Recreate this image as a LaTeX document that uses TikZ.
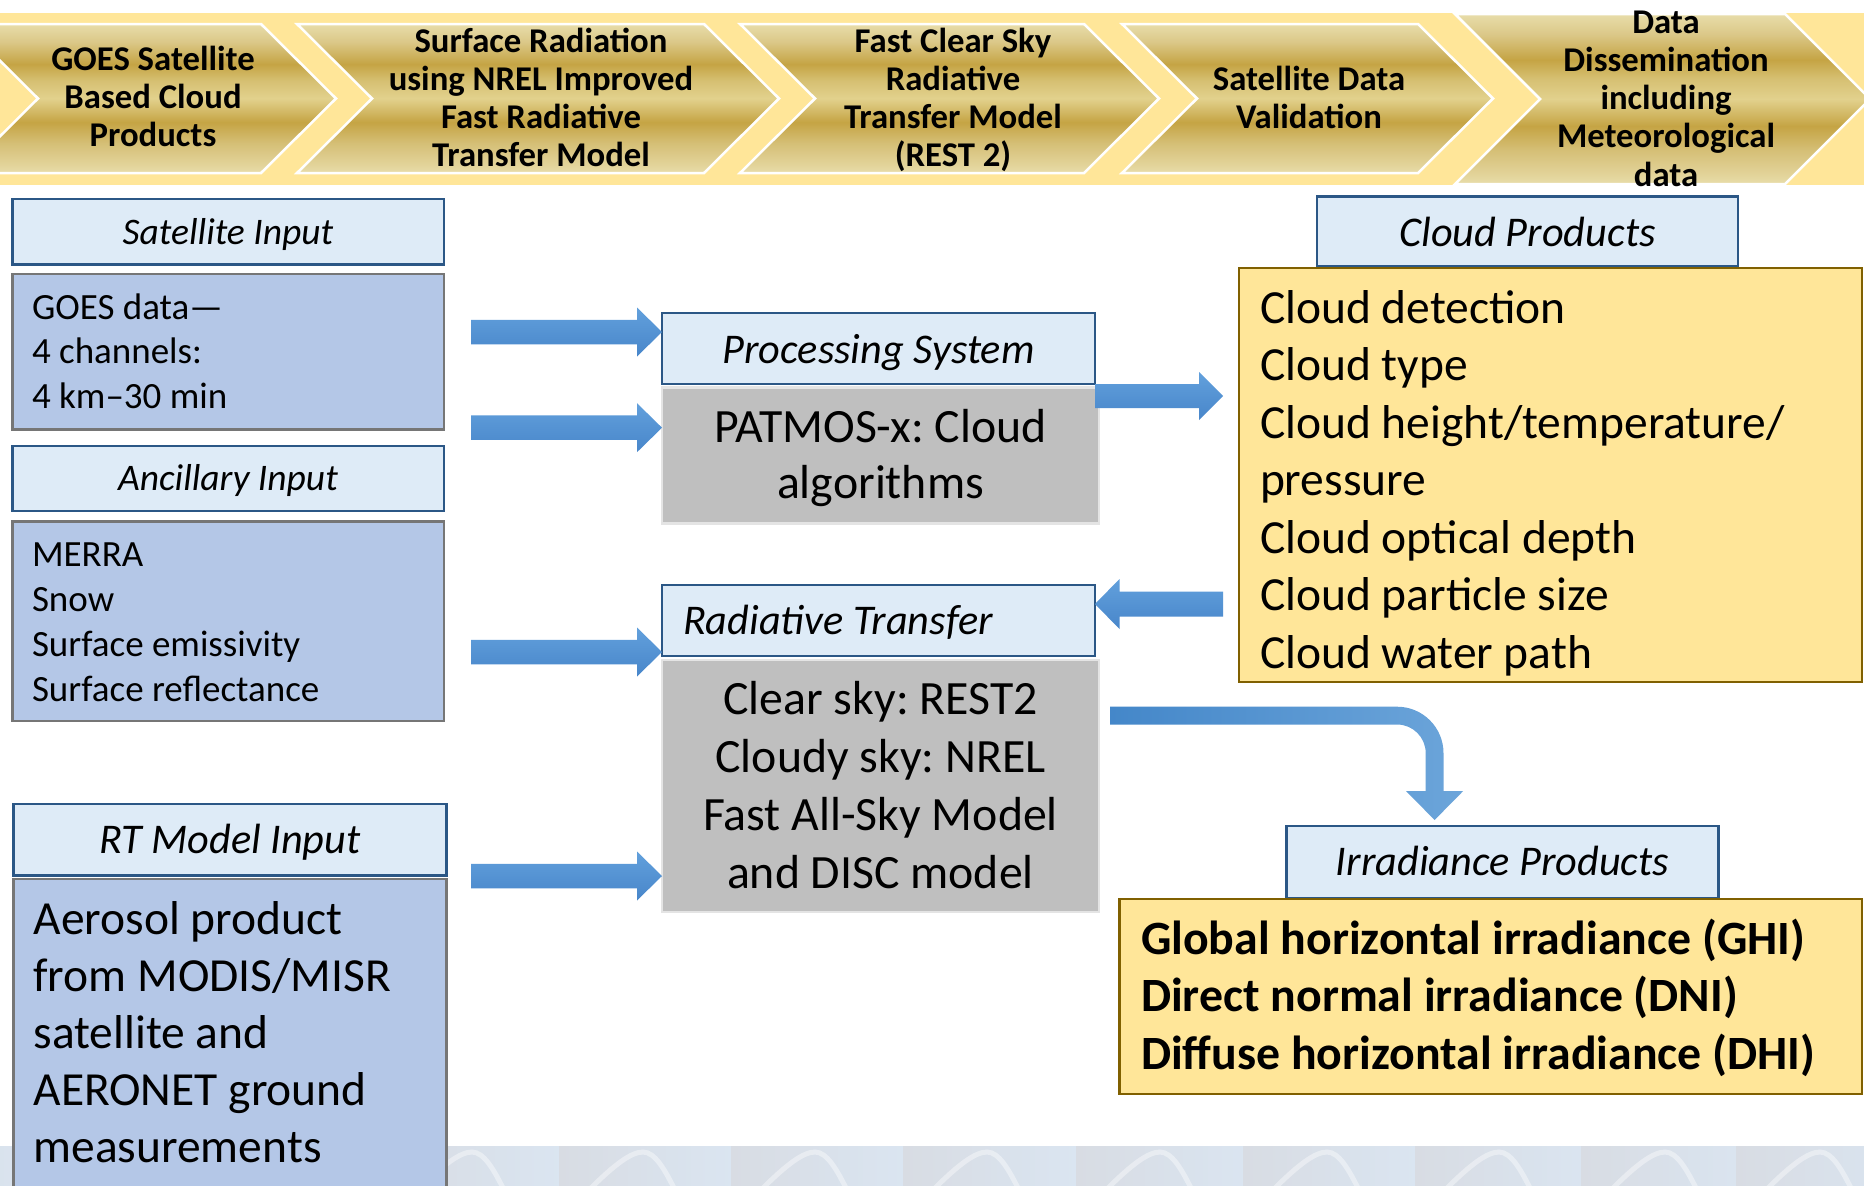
\documentclass[tikz,border=0pt]{standalone}
\usepackage{fontspec}
\setmainfont{Carlito}
\usetikzlibrary{calc}
\frenchspacing
\definecolor{bandY}{HTML}{FFE699}
\definecolor{hdrfill}{HTML}{DEEBF7}
\definecolor{hdrline}{HTML}{2B5786}
\definecolor{bluefill}{HTML}{B4C7E7}
\definecolor{boxline}{HTML}{767676}
\definecolor{grayfill}{HTML}{BFBFBF}
\definecolor{grayline}{HTML}{E4E4E4}
\definecolor{yelfill}{HTML}{FFE699}
\definecolor{yelline}{HTML}{806000}
\definecolor{arrTop}{HTML}{62A0DC}
\definecolor{arrBot}{HTML}{4886CA}
\definecolor{cvL}{HTML}{4487C9}
\definecolor{cvR}{HTML}{6CA5DA}
\definecolor{tileA}{HTML}{D8DCE3}
\definecolor{tileB}{HTML}{DAE5F1}
\definecolor{gE}{HTML}{E8DDAA}
\definecolor{gD}{HTML}{E3D49B}
\definecolor{gC}{HTML}{D5BF76}
\definecolor{gB}{HTML}{C5A444}
\definecolor{gA}{HTML}{E2D18D}
\definecolor{gG}{HTML}{D6C072}
\definecolor{gF}{HTML}{DBC888}
\pgfdeclareverticalshading{goldshade}{100bp}{color(0bp)=(gE); color(25bp)=(gE); color(27.5bp)=(gD); color(35bp)=(gC); color(42bp)=(gB); color(50bp)=(gA); color(56bp)=(gG); color(61.5bp)=(gB); color(69bp)=(gF); color(75bp)=(gE); color(100bp)=(gE)}
\newcommand\fs[1]{\fontsize{#1}{#1}\selectfont}
\newcommand\linesC[2]{\vtop{\baselineskip=#1\lineskiplimit=-\maxdimen\halign{\hfil##\hfil\cr#2\crcr}}}
\newcommand\linesL[2]{\vtop{\baselineskip=#1\lineskiplimit=-\maxdimen\halign{##\hfil\cr#2\crcr}}}
\newcommand\chev[5]{\path[chevron] (#1,#3) -- (#2,#3) -- ({#2+#5},{(#3+#4)/2}) -- (#2,#4) -- (#1,#4) -- ({#1+#5},{(#3+#4)/2}) -- cycle;}
\newcommand\blockarrow[5]{\path[arrowsh] let \p1=(#1), \p2=(#2) in ({\x1},{\y1+#3pt}) -- ({\x2-#5pt},{\y1+#3pt}) -- ({\x2-#5pt},{\y1+#4pt}) -- ({\x2},{\y1}) -- ({\x2-#5pt},{\y1-#4pt}) -- ({\x2-#5pt},{\y1-#3pt}) -- ({\x1},{\y1-#3pt}) -- cycle;}
\newcommand\tile[1]{\path[shade, left color=tileA, right color=tileB] (#1,1146.5) rectangle ({#1+175},1190);
 \draw[white, opacity=0.4, line width=5pt] ({#1+30},1190) .. controls ({#1+55},1165) and ({#1+72},1152) .. ({#1+84},1152) .. controls ({#1+96},1152) and ({#1+106},1170) .. ({#1+116},1190);}
\tikzset{
 chevron/.style={shade, shading=goldshade, draw=white, line width=2.5pt, line join=miter},
 box/.style={inner sep=0pt, outer sep=0pt, anchor=north west},
 hdr/.style={box, draw=hdrline, fill=hdrfill, line width=2.5pt},
 bluebox/.style={box, draw=boxline, fill=bluefill, line width=2.2pt},
 graybox/.style={box, draw=grayline, fill=grayfill, line width=2.5pt},
 yelbox/.style={box, draw=yelline, fill=yelfill, line width=2.2pt},
 txt/.style={inner sep=0pt, outer sep=0pt, text=black},
 bantxt/.style={txt, anchor=base, font=\fs{34.7}\bfseries},
 hdrtxt/.style={txt, anchor=base, font=\fs{42.3}\itshape},
 arrowsh/.style={shade, top color=arrTop, bottom color=arrBot},
 curvsh/.style={shade, left color=cvL, right color=cvR}
}
\begin{document}
\begin{tikzpicture}[x=1pt,y=-1pt]
\useasboundingbox (0,0) rectangle (1864,1186);
\fill[white] (0,0) rectangle (1864,1186);
% banner
\fill[bandY] (0,13) rectangle (1864,185);
\chev{-37}{261}{24}{173}{75}
\chev{297}{704}{24}{173}{75}
\chev{740}{1084}{24}{173}{75}
\chev{1122}{1418}{24}{173}{75}
\chev{1455}{1785}{14}{184}{85}
\node[bantxt] (c1) at (153,70.5) {\linesC{38pt}{GOES Satellite\cr Based Cloud\cr Products}};
\node[bantxt] (c2) at (541,52) {\linesC{38pt}{Surface Radiation\cr using NREL Improved\cr Fast Radiative\cr Transfer Model}};
\node[bantxt] (c3) at (953,52) {\linesC{38pt}{Fast Clear Sky\cr Radiative\cr Transfer Model\cr (REST 2)}};
\node[bantxt] (c4) at (1309,90.5) {\linesC{38pt}{Satellite Data\cr Validation}};
\node[bantxt] (c5) at (1666,33) {\linesC{38.3pt}{Data\cr Dissemination\cr including\cr Meteorological\cr data}};
% bottom strip
\foreach \s in {-128,44,216,388,559,731,903,1076,1243,1415,1581,1736} {\tile{\s}}
% boxes
\node[hdr, minimum width=431.5pt, minimum height=65.5pt] (satH) at (12.5,199) {};
\node[bluebox, minimum width=431.5pt, minimum height=155.5pt] (goesB) at (12.5,274) {};
\node[hdr, minimum width=431.5pt, minimum height=65pt] (ancH) at (12.5,446) {};
\node[bluebox, minimum width=431.5pt, minimum height=199.5pt] (merraB) at (12.5,521.5) {};
\node[hdr, minimum width=433pt, minimum height=71.7pt] (rtH) at (13.4,804) {};
\node[bluebox, minimum width=433pt, minimum height=340pt] (aerB) at (13.4,879) {};
\node[hdr, minimum width=433pt, minimum height=71.2pt] (procH) at (662,312.8) {};
\node[graybox, minimum width=437pt, minimum height=136pt] (patB) at (662,387.4) {};
\node[hdr, minimum width=433pt, minimum height=71pt] (radH) at (662,585) {};
\node[graybox, minimum width=437pt, minimum height=252pt] (rtB) at (662,660) {};
\node[hdr, minimum width=421pt, minimum height=69.3pt] (cloudH) at (1317,196.7) {};
\node[yelbox, minimum width=623pt, minimum height=414pt] (cloudB) at (1239,268) {};
\node[hdr, minimum width=432pt, minimum height=72pt] (irrH) at (1286.5,826) {};
\node[yelbox, minimum width=742.5pt, minimum height=195pt] (irrB) at (1119.5,899) {};
% arrows
\coordinate (a1s) at (471,332);
\coordinate (a1e) at (procH.west |- a1s);
\coordinate (a2s) at (471,427.7);
\coordinate (a2e) at (patB.west |- a2s);
\coordinate (a3s) at (471,652);
\coordinate (a3e) at (radH.west |- a3s);
\coordinate (a4s) at (471,876);
\coordinate (a4e) at (rtB.west |- a4s);
\coordinate (a5y) at (0,396);
\coordinate (a5s) at (procH.east |- a5y);
\coordinate (a5e) at (1223,396);
\coordinate (a6s) at (1223,604);
\coordinate (a6e) at (radH.east |- a6s);
\coordinate (a7s) at (1110,715.6);
\coordinate (a7e) at (1434.6,820);
\blockarrow{a1s}{a1e}{12.25}{24.5}{25}
\blockarrow{a2s}{a2e}{12.25}{24.5}{25}
\blockarrow{a3s}{a3e}{12.25}{24.5}{25}
\blockarrow{a4s}{a4e}{12.25}{24.5}{25}
\blockarrow{a5s}{a5e}{12}{24}{24}
\blockarrow{a6s}{a6e}{12.5}{25}{-24.5}
\path[curvsh] let \p1=(a7s), \p2=(a7e) in
 ({\x1},{\y1+8.9pt}) -- ({\x2-37.5pt},{\y1+8.9pt}) .. controls ({\x2-11.9pt},{\y1+8.9pt}) and ({\x2+8.9pt},{\y1-11.9pt}) .. ({\x2+8.9pt},{\y1-37.5pt})
 -- ({\x2+8.9pt},{\y2+29pt}) -- ({\x2+28.6pt},{\y2+29pt}) -- ({\x2},{\y2}) -- ({\x2-28.6pt},{\y2+29pt}) -- ({\x2-8.9pt},{\y2+29pt})
 -- ({\x2-8.9pt},{\y1-37.5pt}) .. controls ({\x2-8.9pt},{\y1-21.7pt}) and ({\x2-21.7pt},{\y1-8.9pt}) .. ({\x2-37.5pt},{\y1-8.9pt})
 -- ({\x1},{\y1-8.9pt}) -- cycle;
% texts
\node[hdrtxt, font=\fs{37.5}\itshape] (satT) at (228,244.4) {Satellite Input};
\node[hdrtxt, font=\fs{37.5}\itshape] (ancT) at (228,490.5) {Ancillary Input};
\node[hdrtxt] (rtHT) at (230,853) {RT Model Input};
\node[hdrtxt] (procT) at (878.5,363) {Processing System};
\node[hdrtxt, anchor=base west] (radT) at (683,634) {Radiative Transfer};
\node[hdrtxt] (cloudHT) at (1527.5,246) {Cloud Products};
\node[hdrtxt] (irrHT) at (1502.5,875.5) {Irradiance Products};
\node[txt, anchor=base west, font=\fs{37}] (goesT) at (32,319) {\linesL{44.7pt}{GOES data—\cr 4 channels:\cr 4 km–30 min}};
\node[txt, anchor=base west, font=\fs{37}] (merraT) at (32,566) {\linesL{45pt}{MERRA\cr Snow\cr Surface emissivity\cr Surface reflectance}};
\node[txt, anchor=base west, font=\fs{47.5}] (aerT) at (33.5,934) {\linesL{57.2pt}{Aerosol product\cr from MODIS/MISR\cr satellite and\cr AERONET ground\cr measurements}};
\node[txt, anchor=base, font=\fs{47.8}] (patT) at (880.5,442) {\linesC{56pt}{PATMOS-x: Cloud\cr algorithms}};
\node[txt, anchor=base, font=\fs{47.8}] (rtT) at (880.5,714) {\linesC{58pt}{Clear sky: REST2\cr Cloudy sky: NREL\cr Fast All-Sky Model\cr and DISC model}};
\node[txt, anchor=base west, font=\fs{47.5}] (cloudT) at (1260,323) {\linesL{57.5pt}{Cloud detection\cr Cloud type\cr Cloud height/temperature/\cr pressure\cr Cloud optical depth\cr Cloud particle size\cr Cloud water path}};
\node[txt, anchor=base west, font=\fs{47.8}\bfseries] (irrT) at (1141,954) {\linesL{57.5pt}{Global horizontal irradiance (GHI)\cr Direct normal irradiance (DNI)\cr Diffuse horizontal irradiance (DHI)}};
\end{tikzpicture}
\end{document}
